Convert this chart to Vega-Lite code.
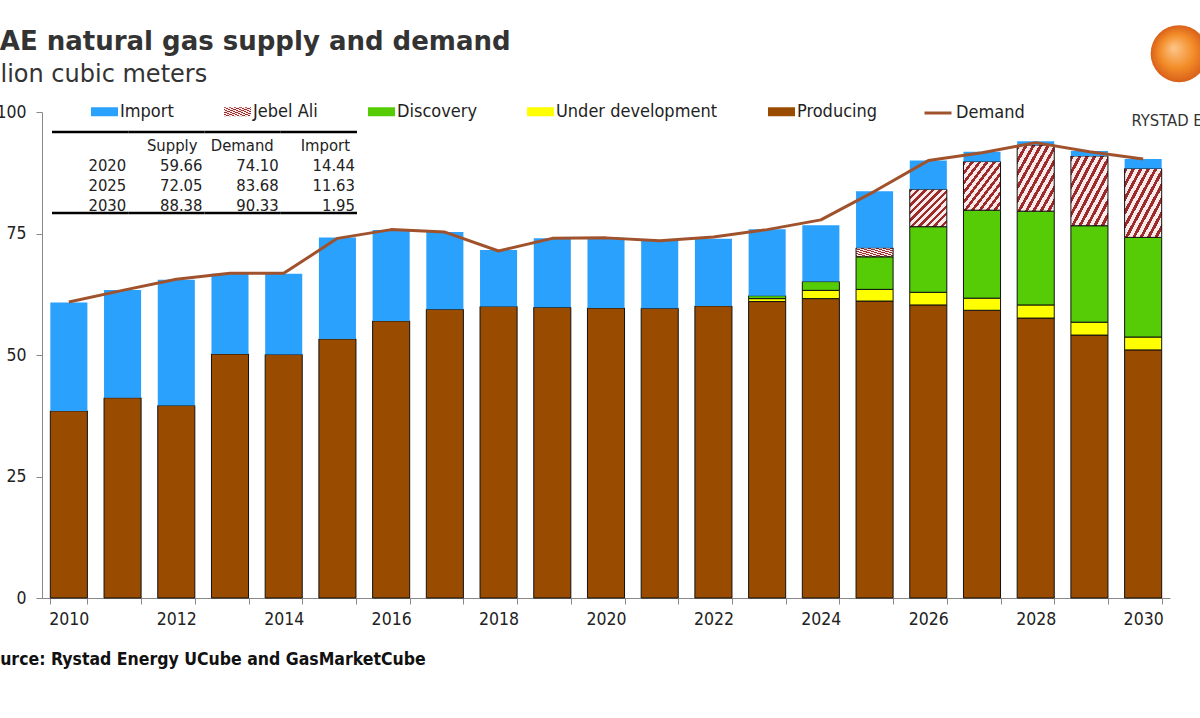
{
  "$schema": "https://vega.github.io/schema/vega-lite/v6.json",
  "width": 1128,
  "height": 486,
  "autosize": {"type": "none"},
  "padding": {"left": 42, "top": 112, "right": 30, "bottom": 120},
  "background": "white",
  "config": {"view": {"stroke": null}, "font": "DejaVu Sans Condensed"},
  "datasets": {
    "supply": [
      {"year": 2010, "type": "Producing", "value": 38.5}, {"year": 2010, "type": "Import", "value": 22.3},
      {"year": 2011, "type": "Producing", "value": 41.2}, {"year": 2011, "type": "Import", "value": 22.2},
      {"year": 2012, "type": "Producing", "value": 39.6}, {"year": 2012, "type": "Import", "value": 25.9},
      {"year": 2013, "type": "Producing", "value": 50.2}, {"year": 2013, "type": "Import", "value": 16.5},
      {"year": 2014, "type": "Producing", "value": 50.1}, {"year": 2014, "type": "Import", "value": 16.6},
      {"year": 2015, "type": "Producing", "value": 53.3}, {"year": 2015, "type": "Import", "value": 20.9},
      {"year": 2016, "type": "Producing", "value": 57.0}, {"year": 2016, "type": "Import", "value": 18.7},
      {"year": 2017, "type": "Producing", "value": 59.4}, {"year": 2017, "type": "Import", "value": 15.9},
      {"year": 2018, "type": "Producing", "value": 60.0}, {"year": 2018, "type": "Import", "value": 11.6},
      {"year": 2019, "type": "Producing", "value": 59.8}, {"year": 2019, "type": "Import", "value": 14.2},
      {"year": 2020, "type": "Producing", "value": 59.66}, {"year": 2020, "type": "Import", "value": 14.44},
      {"year": 2021, "type": "Producing", "value": 59.6}, {"year": 2021, "type": "Import", "value": 13.9},
      {"year": 2022, "type": "Producing", "value": 60.1}, {"year": 2022, "type": "Import", "value": 13.8},
      {"year": 2023, "type": "Producing", "value": 61.0}, {"year": 2023, "type": "Under development", "value": 0.6}, {"year": 2023, "type": "Discovery", "value": 0.6}, {"year": 2023, "type": "Import", "value": 13.7},
      {"year": 2024, "type": "Producing", "value": 61.6}, {"year": 2024, "type": "Under development", "value": 1.7}, {"year": 2024, "type": "Discovery", "value": 1.8}, {"year": 2024, "type": "Import", "value": 11.6},
      {"year": 2025, "type": "Producing", "value": 61.1}, {"year": 2025, "type": "Under development", "value": 2.4}, {"year": 2025, "type": "Discovery", "value": 6.7}, {"year": 2025, "type": "Jebel Ali", "value": 1.85}, {"year": 2025, "type": "Import", "value": 11.63},
      {"year": 2026, "type": "Producing", "value": 60.3}, {"year": 2026, "type": "Under development", "value": 2.6}, {"year": 2026, "type": "Discovery", "value": 13.5}, {"year": 2026, "type": "Jebel Ali", "value": 7.7}, {"year": 2026, "type": "Import", "value": 5.9},
      {"year": 2027, "type": "Producing", "value": 59.2}, {"year": 2027, "type": "Under development", "value": 2.5}, {"year": 2027, "type": "Discovery", "value": 18.1}, {"year": 2027, "type": "Jebel Ali", "value": 10.0}, {"year": 2027, "type": "Import", "value": 2.0},
      {"year": 2028, "type": "Producing", "value": 57.6}, {"year": 2028, "type": "Under development", "value": 2.7}, {"year": 2028, "type": "Discovery", "value": 19.3}, {"year": 2028, "type": "Jebel Ali", "value": 13.6}, {"year": 2028, "type": "Import", "value": 0.8},
      {"year": 2029, "type": "Producing", "value": 54.1}, {"year": 2029, "type": "Under development", "value": 2.65}, {"year": 2029, "type": "Discovery", "value": 19.85}, {"year": 2029, "type": "Jebel Ali", "value": 14.35}, {"year": 2029, "type": "Import", "value": 1.05},
      {"year": 2030, "type": "Producing", "value": 51.05}, {"year": 2030, "type": "Under development", "value": 2.65}, {"year": 2030, "type": "Discovery", "value": 20.5}, {"year": 2030, "type": "Jebel Ali", "value": 14.18}, {"year": 2030, "type": "Import", "value": 1.95}
    ],
    "demand": [
      {"year": 2010, "demand": 60.9}, {"year": 2011, "demand": 63.3}, {"year": 2012, "demand": 65.6},
      {"year": 2013, "demand": 66.8}, {"year": 2014, "demand": 66.8}, {"year": 2015, "demand": 74.0},
      {"year": 2016, "demand": 75.8}, {"year": 2017, "demand": 75.3}, {"year": 2018, "demand": 71.4},
      {"year": 2019, "demand": 74.0}, {"year": 2020, "demand": 74.1}, {"year": 2021, "demand": 73.5},
      {"year": 2022, "demand": 74.3}, {"year": 2023, "demand": 75.8}, {"year": 2024, "demand": 77.8},
      {"year": 2025, "demand": 83.68}, {"year": 2026, "demand": 90.0}, {"year": 2027, "demand": 91.6},
      {"year": 2028, "demand": 93.7}, {"year": 2029, "demand": 91.8}, {"year": 2030, "demand": 90.33}
    ],
    "table": [
      {"row": "Header", "col": "Year", "text": ""},
      {"row": "Header", "col": "Supply", "text": "Supply"},
      {"row": "Header", "col": "Demand", "text": "Demand"},
      {"row": "Header", "col": "Import", "text": "Import"},
      {"row": "2020", "col": "Year", "text": "2020"},
      {"row": "2020", "col": "Supply", "text": "59.66"},
      {"row": "2020", "col": "Demand", "text": "74.10"},
      {"row": "2020", "col": "Import", "text": "14.44"},
      {"row": "2025", "col": "Year", "text": "2025"},
      {"row": "2025", "col": "Supply", "text": "72.05"},
      {"row": "2025", "col": "Demand", "text": "83.68"},
      {"row": "2025", "col": "Import", "text": "11.63"},
      {"row": "2030", "col": "Year", "text": "2030"},
      {"row": "2030", "col": "Supply", "text": "88.38"},
      {"row": "2030", "col": "Demand", "text": "90.33"},
      {"row": "2030", "col": "Import", "text": "1.95"}
    ]
  },
  "layer": [
    {
      "encoding": {
        "x": {
          "field": "year", "type": "ordinal",
          "scale": {"paddingInner": 0.31, "paddingOuter": 0.155},
          "axis": {
            "title": "Source: Rystad Energy UCube and GasMarketCube",
            "titleX": -64.5, "titleY": 66, "titleAlign": "left", "titleBaseline": "alphabetic",
            "titleFont": "DejaVu Sans Condensed", "titleFontSize": 17.5, "titleFontWeight": "bold", "titleColor": "#111111",
            "labelAngle": 0, "labelExpr": "datum.value % 2 === 0 ? datum.label : ''",
            "tickBand": "extent", "tickSize": 6, "tickColor": "#888888", "domainColor": "#888888",
            "labelFont": "DejaVu Sans Condensed", "labelFontSize": 17.5, "labelColor": "#222222", "labelPadding": 6, "grid": false
          }
        }
      },
      "layer": [
        {
          "data": {"name": "supply"},
          "transform": [{"calculate": "indexof(['Producing','Under development','Discovery','Jebel Ali','Import'], datum.type)", "as": "stackOrder"}],
          "mark": {"type": "bar", "strokeWidth": 1},
          "encoding": {
            "y": {
              "field": "value", "type": "quantitative", "stack": "zero",
              "scale": {"domain": [0, 100], "nice": false},
              "axis": {
                "values": [0, 25, 50, 75, 100],
                "title": "Billion cubic meters", "titleAngle": 0, "titleX": -71.8, "titleY": -31,
                "titleAlign": "left", "titleBaseline": "alphabetic", "titleFont": "DejaVu Sans", "titleFontSize": 24,
                "titleFontWeight": "normal", "titleColor": "#333333",
                "grid": false, "tickSize": 6, "tickColor": "#888888", "domainColor": "#888888",
                "labelFont": "DejaVu Sans Condensed", "labelFontSize": 17.5, "labelColor": "#222222", "labelPadding": 10
              }
            },
            "color": {
              "field": "type", "type": "nominal",
              "scale": {
                "domain": ["Import", "Jebel Ali", "Discovery", "Under development", "Producing"],
                "range": [
                  "#2AA1FC",
                  {"expr": "{gradient: 'linear', x1: 0, y1: 0, x2: 1, y2: 1, stops: [{offset: 0, color: '#9E2B2B'}, {offset: 0.045, color: '#9E2B2B'}, {offset: 0.045, color: '#FBEAEA'}, {offset: 0.1, color: '#FBEAEA'}, {offset: 0.1, color: '#9E2B2B'}, {offset: 0.145, color: '#9E2B2B'}, {offset: 0.145, color: '#FBEAEA'}, {offset: 0.2, color: '#FBEAEA'}, {offset: 0.2, color: '#9E2B2B'}, {offset: 0.245, color: '#9E2B2B'}, {offset: 0.245, color: '#FBEAEA'}, {offset: 0.3, color: '#FBEAEA'}, {offset: 0.3, color: '#9E2B2B'}, {offset: 0.345, color: '#9E2B2B'}, {offset: 0.345, color: '#FBEAEA'}, {offset: 0.4, color: '#FBEAEA'}, {offset: 0.4, color: '#9E2B2B'}, {offset: 0.445, color: '#9E2B2B'}, {offset: 0.445, color: '#FBEAEA'}, {offset: 0.5, color: '#FBEAEA'}, {offset: 0.5, color: '#9E2B2B'}, {offset: 0.545, color: '#9E2B2B'}, {offset: 0.545, color: '#FBEAEA'}, {offset: 0.6, color: '#FBEAEA'}, {offset: 0.6, color: '#9E2B2B'}, {offset: 0.645, color: '#9E2B2B'}, {offset: 0.645, color: '#FBEAEA'}, {offset: 0.7, color: '#FBEAEA'}, {offset: 0.7, color: '#9E2B2B'}, {offset: 0.745, color: '#9E2B2B'}, {offset: 0.745, color: '#FBEAEA'}, {offset: 0.8, color: '#FBEAEA'}, {offset: 0.8, color: '#9E2B2B'}, {offset: 0.845, color: '#9E2B2B'}, {offset: 0.845, color: '#FBEAEA'}, {offset: 0.9, color: '#FBEAEA'}, {offset: 0.9, color: '#9E2B2B'}, {offset: 0.945, color: '#9E2B2B'}, {offset: 0.945, color: '#FBEAEA'}, {offset: 1, color: '#FBEAEA'}]}"},
                  "#55CC05",
                  "#FFFF00",
                  "#994C00"
                ]
              },
              "legend": {
                "orient": "none", "legendX": 49, "legendY": -14, "direction": "horizontal", "columns": 5,
                "columnPadding": 50, "labelOffset": 2, "labelFont": "DejaVu Sans Condensed", "labelFontSize": 18,
                "labelColor": "#222222", "title": null, "symbolSize": 729, "labelLimit": 400, "padding": 0,
                "symbolType": "M-1,-0.333H1V0.333H-1Z", "symbolStrokeWidth": 0, "symbolOpacity": 1
              }
            },
            "order": {"field": "stackOrder", "type": "quantitative", "sort": "ascending"},
            "stroke": {"condition": {"test": "datum.type === 'Import'", "value": "transparent"}, "value": "#111111"}
          }
        },
        {
          "data": {"name": "demand"},
          "mark": {"type": "line", "strokeWidth": 3, "strokeJoin": "round"},
          "encoding": {
            "y": {
              "field": "demand", "type": "quantitative",
              "scale": {"domain": [0, 100], "nice": false},
              "axis": {
                "orient": "right", "labels": false, "ticks": false, "domain": false, "grid": false,
                "title": "RYSTAD ENERGY", "titleAngle": 0, "titleX": -39, "titleY": 13, "titleAlign": "left",
                "titleBaseline": "alphabetic", "titleFont": "DejaVu Sans Condensed", "titleFontSize": 16.5,
                "titleFontWeight": "normal", "titleColor": "#333333"
              }
            },
            "stroke": {
              "datum": "Demand", "type": "nominal",
              "scale": {"domain": ["Demand"], "range": ["#A0522D"]},
              "legend": {
                "orient": "none", "legendX": 881, "legendY": -14, "title": null, "symbolType": "stroke",
                "symbolSize": 729, "symbolStrokeWidth": 3, "labelOffset": 3, "labelFont": "DejaVu Sans Condensed",
                "labelFontSize": 18, "labelColor": "#222222", "padding": 0, "labelLimit": 400
              }
            }
          }
        },
        {
          "data": {"values": [{}]},
          "mark": {
            "type": "point", "filled": true, "shape": "circle", "size": 3249, "xOffset": 36, "opacity": 1, "strokeWidth": 0,
            "fill": {"gradient": "radial", "x1": 0.4, "y1": 0.4, "r1": 0, "x2": 0.5, "y2": 0.5, "r2": 0.5, "stops": [
              {"offset": 0, "color": "#FDC68A"}, {"offset": 0.6, "color": "#F28C28"}, {"offset": 1, "color": "#D9601A"}
            ]}
          },
          "encoding": {
            "x": {"datum": 2030, "type": "ordinal"},
            "y": {"datum": 112, "type": "quantitative", "scale": {"domain": [0, 100], "nice": false}, "axis": null}
          }
        }
      ],
      "resolve": {"axis": {"y": "independent"}}
    },
    {
      "data": {"name": "table"},
      "encoding": {
        "x": {
          "field": "col", "type": "nominal",
          "scale": {"type": "band", "domain": ["Year", "Supply", "Demand", "Import"], "range": [10, 315], "paddingInner": 0, "paddingOuter": 0},
          "axis": {"orient": "top", "labels": false, "ticks": false, "domain": false, "grid": false,
            "title": "UAE natural gas supply and demand", "titleX": -63, "titleY": -62.7, "titleAlign": "left", "titleAngle": 0,
            "titleBaseline": "alphabetic", "titleFont": "DejaVu Sans", "titleFontSize": 26, "titleFontWeight": "bold", "titleColor": "#333333"}
        },
        "y": {"field": "row", "type": "nominal", "scale": {"type": "band", "domain": ["Header", "2020", "2025", "2030"], "range": [24, 104], "paddingInner": 0, "paddingOuter": 0}, "axis": null}
      },
      "layer": [
        {
          "transform": [{"filter": "datum.row === 'Header'"}],
          "mark": {"type": "tick", "orient": "horizontal", "size": 76.25, "thickness": 2.5, "color": "#000000", "yOffset": -4, "opacity": 1},
          "encoding": {
            "y": {"field": "row", "type": "nominal", "bandPosition": 0, "scale": {"type": "band", "domain": ["Header", "2020", "2025", "2030"], "range": [24, 104], "paddingInner": 0, "paddingOuter": 0}, "axis": null}
          }
        },
        {
          "transform": [{"filter": "datum.row === '2030'"}],
          "mark": {"type": "tick", "orient": "horizontal", "size": 76.25, "thickness": 2.5, "color": "#000000", "yOffset": -3, "opacity": 1},
          "encoding": {
            "y": {"field": "row", "type": "nominal", "bandPosition": 1, "scale": {"type": "band", "domain": ["Header", "2020", "2025", "2030"], "range": [24, 104], "paddingInner": 0, "paddingOuter": 0}, "axis": null}
          }
        },
        {
          "transform": [{"filter": "datum.row === 'Header'"}],
          "mark": {"type": "text", "align": "right", "baseline": "middle", "dx": -7, "font": "DejaVu Sans Condensed", "fontSize": 16.5, "color": "#222222"},
          "encoding": {
            "x": {
              "field": "col", "type": "nominal", "bandPosition": 1,
              "scale": {"type": "band", "domain": ["Year", "Supply", "Demand", "Import"], "range": [10, 315], "paddingInner": 0, "paddingOuter": 0},
              "axis": {"orient": "top", "labels": false, "ticks": false, "domain": false, "grid": false,
                "title": "UAE natural gas supply and demand", "titleX": -63, "titleY": -62.7, "titleAlign": "left", "titleAngle": 0,
                "titleBaseline": "alphabetic", "titleFont": "DejaVu Sans", "titleFontSize": 26, "titleFontWeight": "bold", "titleColor": "#333333"}
            },
            "text": {"field": "text"}
          }
        },
        {
          "transform": [{"filter": "datum.row !== 'Header'"}],
          "mark": {"type": "text", "align": "right", "baseline": "middle", "dx": -2, "font": "DejaVu Sans Condensed", "fontSize": 16.5, "color": "#222222"},
          "encoding": {
            "x": {
              "field": "col", "type": "nominal", "bandPosition": 1,
              "scale": {"type": "band", "domain": ["Year", "Supply", "Demand", "Import"], "range": [10, 315], "paddingInner": 0, "paddingOuter": 0},
              "axis": {"orient": "top", "labels": false, "ticks": false, "domain": false, "grid": false,
                "title": "UAE natural gas supply and demand", "titleX": -63, "titleY": -62.7, "titleAlign": "left", "titleAngle": 0,
                "titleBaseline": "alphabetic", "titleFont": "DejaVu Sans", "titleFontSize": 26, "titleFontWeight": "bold", "titleColor": "#333333"}
            },
            "text": {"field": "text"}
          }
        }
      ]
    }
  ],
  "resolve": {"scale": {"x": "independent", "y": "independent"}}
}
